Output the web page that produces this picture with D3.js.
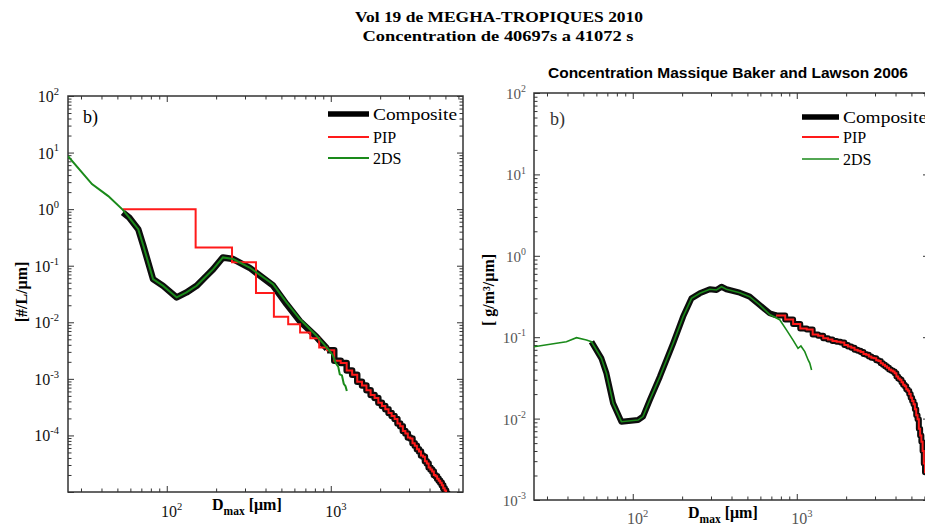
<!DOCTYPE html>
<html><head><meta charset="utf-8">
<script src="https://cdn.jsdelivr.net/npm/d3@7"></script>
<style>body{margin:0;background:#fff}svg{display:block}</style>
</head><body>
<svg id="c" width="925" height="526"></svg>
<script>
// ---------------- data ----------------
const titleLines = ["Vol 19 de MEGHA-TROPIQUES 2010", "Concentration de 40697s a  41072 s"];
const rightTitle = "Concentration Massique Baker and Lawson 2006";
const seriesNames = ["Composite", "PIP", "2DS"];
const panelTag = "b)";
const leftYLabel = "[#/L/\u03bcm]";
const rightYLabel = "[  g/m\u00b3/\u03bcm]";

// tick labels (powers of ten that carry a label)
const xTickLabels = [100, 1000];
const leftYTickLabels = [1e-4, 1e-3, 1e-2, 1e-1, 1, 10, 100];
const rightYTickLabels = [1e-3, 1e-2, 1e-1, 1, 10, 100];

// Left panel: number concentration [#/L/um] vs Dmax [um]
const twoDS_D = [25, 35, 44, 54, 59, 67, 72, 82.5, 95, 115, 132, 152, 175, 192, 220, 254, 320, 444, 537, 647, 818, 986, 1030, 1072, 1110, 1135, 1170, 1200, 1230, 1253];
const twoDS_N = [8.6, 2.77, 1.7, 0.97, 0.71, 0.443, 0.225, 0.058, 0.044, 0.0275, 0.0337, 0.0441, 0.0663, 0.087, 0.14, 0.131, 0.093, 0.047, 0.0225, 0.0114, 0.0058, 0.0031, 0.0026, 0.0019, 0.00165, 0.0012, 0.00115, 0.00082, 0.00074, 0.00061];

const comp_D = [54, 59, 67, 72, 82.5, 95, 115, 132, 152, 175, 192, 220, 254, 320, 444, 537, 647, 818, 950];
const comp_N = [0.87, 0.71, 0.443, 0.225, 0.058, 0.044, 0.0275, 0.0337, 0.0441, 0.0663, 0.087, 0.14, 0.131, 0.092, 0.045, 0.021, 0.0105, 0.0055, 0.0034];

const pip_D = [54, 150, 250, 350, 450, 550, 650, 750, 850, 950, 1050, 1150, 1250, 1350, 1450, 1550, 1650, 1750, 1850, 1950, 2050, 2150, 2250, 2350, 2450, 2550, 2650, 2750, 2850, 2950, 3050, 3150, 3250, 3350, 3450, 3550, 3650, 3750, 3850, 3950, 4050, 4150, 4250, 4350, 4450, 4550, 4650, 4750, 4850, 4950, 5050, 5150];
const pip_N = [1.0, 0.21, 0.115, 0.033, 0.0125, 0.0092, 0.0066, 0.0052, 0.0036, 0.0032, 0.0021, 0.0019, 0.0014, 0.00118, 0.00089, 0.00076, 0.00063, 0.00052, 0.00046, 0.00038, 0.00033, 0.00029, 0.00025, 0.00022, 0.000195, 0.000162, 0.000146, 0.00012, 0.000108, 0.000092, 0.000088, 0.000073, 0.000066, 0.000057, 0.000052, 0.000044, 0.000042, 0.000035, 0.000032, 0.000027, 0.000025, 0.000023, 0.00002, 0.000019, 0.0000172, 0.0000158, 0.0000145, 0.0000131, 0.0000117, 0.0000106, 0.0000094, 0.0000085];
const pip_end = 5250;
const compositeSwitchD = 950;

// Right panel: mass concentration [g/m3/um] vs Dmax [um]
const mass2DS_D = [25, 34.3, 39.4, 45.4, 52.2, 56, 64.4, 69.1, 75.9, 85.3, 107.7, 115.5, 127, 146.3, 176.3, 202.9, 228.2, 256.4, 295, 324, 347.4, 372.5, 449, 516, 594, 684, 787, 865, 949, 1018, 1060, 1119, 1150, 1173, 1200, 1231];
const mass2DS_M = [0.0764, 0.0841, 0.088, 0.0986, 0.0924, 0.088, 0.055, 0.036, 0.0154, 0.00916, 0.0096, 0.0106, 0.0169, 0.0327, 0.0841, 0.179, 0.30, 0.346, 0.388, 0.38, 0.417, 0.388, 0.352, 0.315, 0.249, 0.19, 0.164, 0.123, 0.092, 0.073, 0.078, 0.0664, 0.058, 0.0525, 0.048, 0.0395];

const massComp_D = [56, 64.4, 69.1, 75.9, 85.3, 107.7, 115.5, 127, 146.3, 176.3, 202.9, 228.2, 256.4, 295, 324, 347.4, 372.5, 449, 516, 594, 684, 750];
const massComp_M = [0.088, 0.055, 0.036, 0.0154, 0.00916, 0.0096, 0.0106, 0.0169, 0.0327, 0.0841, 0.179, 0.30, 0.346, 0.388, 0.38, 0.417, 0.388, 0.352, 0.315, 0.249, 0.197, 0.185];

const massPIP_D = [750, 850, 950, 1050, 1150, 1250, 1350, 1450, 1550, 1650, 1750, 1850, 1950, 2050, 2150, 2250, 2350, 2450, 2550, 2650, 2750, 2850, 2950, 3050, 3150, 3250, 3350, 3450, 3550, 3650, 3750, 3850, 3950, 4050, 4150, 4250, 4350, 4450, 4550, 4650, 4750, 4850, 4950, 5050, 5150, 5250, 5350, 5450, 5550, 5650, 5750, 5850, 5950, 6050];
const massPIP_M = [0.185, 0.165, 0.145, 0.128, 0.124, 0.108, 0.104, 0.097, 0.094, 0.09, 0.088, 0.086, 0.08, 0.077, 0.074, 0.07, 0.068, 0.066, 0.062, 0.061, 0.058, 0.056, 0.055, 0.052, 0.051, 0.048, 0.046, 0.044, 0.042, 0.04, 0.039, 0.038, 0.036, 0.033, 0.031, 0.03, 0.028, 0.026, 0.025, 0.023, 0.022, 0.02, 0.018, 0.0165, 0.015, 0.013, 0.011, 0.0098, 0.0075, 0.0062, 0.0052, 0.004, 0.0028, 0.0022];
const massPIP_end = 6150;

const xDomain = [25, 6400];
const leftYDomain = [1e-5, 1e2];
const rightYDomain = [1e-3, 1e2];

// ---------------- drawing ----------------
const SERIF = "'Liberation Serif','Times New Roman',serif";
const SANS = "'Liberation Sans',Arial,sans-serif";
const C_BLACK = "#000", C_RED = "#ff1a1a", C_GREEN = "#1a8a1a", FRAME = "#333";
const svg = d3.select("#c");

// titles
svg.append("text").attr("x", 499).attr("y", 22).attr("text-anchor", "middle")
  .attr("font-family", SERIF).attr("font-weight", "bold").attr("font-size", 15.5)
  .attr("textLength", 288).attr("lengthAdjust", "spacingAndGlyphs").text(titleLines[0]);
svg.append("text").attr("x", 498).attr("y", 41).attr("text-anchor", "middle")
  .attr("font-family", SERIF).attr("font-weight", "bold").attr("font-size", 15.5)
  .attr("textLength", 271).attr("lengthAdjust", "spacingAndGlyphs").text(titleLines[1]);
svg.append("text").attr("x", 548).attr("y", 78)
  .attr("font-family", SANS).attr("font-weight", "bold").attr("font-size", 14)
  .attr("textLength", 360).attr("lengthAdjust", "spacingAndGlyphs").text(rightTitle);

function logTicks(domain) {
  const [a, b] = domain, major = [], minor = [];
  for (let e = Math.floor(Math.log10(a)); e <= Math.ceil(Math.log10(b)); e++) {
    for (let k = 1; k < 10; k++) {
      const v = +(k * Math.pow(10, e)).toPrecision(6);
      if (v < a * 0.9999 || v > b * 1.0001) continue;
      (k === 1 ? major : minor).push(v);
    }
  }
  return { major, minor };
}

function supLabel(g, x, y, exp, anchor, size, color) {
  const t = g.append("text").attr("x", x).attr("y", y).attr("text-anchor", anchor)
    .attr("font-family", SERIF).attr("font-size", size).attr("fill", color);
  t.append("tspan").text("10");
  t.append("tspan").attr("dy", -size * 0.45).attr("font-size", size * 0.66).text(String(exp));
  return t;
}

function panel(cfg) {
  const { x, y, id, labelColor } = cfg;
  const [x0, x1] = x.range(), [yb, yt] = y.range();
  const g = svg.append("g");
  svg.append("clipPath").attr("id", id).append("rect")
    .attr("x", x0).attr("y", yt).attr("width", x1 - x0).attr("height", yb - yt);

  const xt = logTicks(x.domain()), ytk = logTicks(y.domain());
  const add = (axis, tr, vals, size) => {
    const a = g.append("g").attr("transform", tr)
      .call(axis.tickValues(vals).tickSize(-size).tickFormat(""));
    a.select(".domain").remove();
    a.selectAll("line").attr("stroke", FRAME).attr("stroke-width", 1);
  };
  add(d3.axisBottom(x), `translate(0,${yb})`, xt.major, 6);
  add(d3.axisBottom(x), `translate(0,${yb})`, xt.minor, 3.5);
  add(d3.axisTop(x), `translate(0,${yt})`, xt.major, 6);
  add(d3.axisTop(x), `translate(0,${yt})`, xt.minor, 3.5);
  add(d3.axisLeft(y), `translate(${x0},0)`, ytk.major, 6);
  add(d3.axisLeft(y), `translate(${x0},0)`, ytk.minor, 3.5);
  add(d3.axisRight(y), `translate(${x1},0)`, ytk.major, 6);
  add(d3.axisRight(y), `translate(${x1},0)`, ytk.minor, 3.5);

  g.append("rect").attr("x", x0).attr("y", yt).attr("width", x1 - x0).attr("height", yb - yt)
    .attr("fill", "none").attr("stroke", FRAME).attr("stroke-width", 1.5);

  // tick labels
  cfg.yLabels.forEach(v => supLabel(g, x0 - cfg.yLabelGap, y(v) + 6, Math.round(Math.log10(v)), "end", cfg.yLabelSize, labelColor));
  cfg.xLabels.forEach(v => supLabel(g, x(v) + 5, cfg.xLabelY, Math.round(Math.log10(v)), "middle", 16, labelColor));

  const data = svg.append("g").attr("clip-path", `url(#${id})`);
  return { g, data };
}

const lineFn = (x, y, curve) => d3.line().x(d => x(d[0])).y(d => y(d[1])).curve(curve || d3.curveLinear);

function xLabel(x, y) {
  const t = svg.append("text").attr("x", x).attr("y", y).attr("font-family", SERIF).attr("font-weight", "bold").attr("font-size", 16);
  t.append("tspan").text("D");
  t.append("tspan").attr("dy", 5).attr("font-size", 11.5).text("max");
  t.append("tspan").attr("dy", -5).attr("dx", 4).text("[\u03bcm]");
}

// ---------- Left panel ----------
const xL = d3.scaleLog().domain(xDomain).range([68, 463]);
const yL = d3.scaleLog().domain(leftYDomain).range([492, 96]);
const L = panel({ x: xL, y: yL, id: "clipL", labelColor: "#111", yLabelGap: 9, yLabelSize: 16, xLabelY: 517,
  yLabels: leftYTickLabels, xLabels: xTickLabels });

const pipPts = d3.zip(pip_D, pip_N).concat([[pip_end, pip_N[pip_N.length - 1]]]);
const compStepPts = pipPts.filter(d => d[0] >= compositeSwitchD);
const compSmooth = d3.zip(comp_D, comp_N);

[lineFn(xL, yL)(compSmooth), lineFn(xL, yL, d3.curveStepAfter)(compStepPts)].forEach(p =>
  L.data.append("path").attr("d", p).attr("fill", "none").attr("stroke", C_BLACK)
    .attr("stroke-width", 6.5).attr("stroke-linejoin", "round").attr("opacity", 0.95));
L.data.append("path").attr("d", lineFn(xL, yL, d3.curveStepAfter)(pipPts))
  .attr("fill", "none").attr("stroke", C_RED).attr("stroke-width", 2);
L.data.append("path").attr("d", lineFn(xL, yL)(d3.zip(twoDS_D, twoDS_N)))
  .attr("fill", "none").attr("stroke", C_GREEN).attr("stroke-width", 2);

// left labels
svg.append("text").attr("x", 83).attr("y", 123).attr("font-family", SERIF).attr("font-size", 18).text(panelTag);
svg.append("text").attr("transform", "translate(27,292) rotate(-90)").attr("text-anchor", "middle")
  .attr("font-family", SERIF).attr("font-weight", "bold").attr("font-size", 16).text(leftYLabel);
xLabel(212, 510);
// left legend
const legL = [{ y: 114, c: C_BLACK, w: 5.5 }, { y: 137, c: C_RED, w: 2 }, { y: 158, c: C_GREEN, w: 2 }];
legL.forEach((d, i) => {
  svg.append("line").attr("x1", 328).attr("x2", 369).attr("y1", d.y).attr("y2", d.y).attr("stroke", d.c).attr("stroke-width", d.w);
  const t = svg.append("text").attr("x", 373).attr("y", d.y + 6).attr("font-family", SERIF).attr("font-size", 16).text(seriesNames[i]);
  if (i === 0) t.attr("textLength", 84).attr("lengthAdjust", "spacingAndGlyphs");
});

// ---------- Right panel ----------
const xR = d3.scaleLog().domain(xDomain).range([534, 929]);
const yR = d3.scaleLog().domain(rightYDomain).range([500, 93]);
const R = panel({ x: xR, y: yR, id: "clipR", labelColor: "#555", yLabelGap: 8, yLabelSize: 15, xLabelY: 524,
  yLabels: rightYTickLabels, xLabels: xTickLabels });

const massPipPts = d3.zip(massPIP_D, massPIP_M).concat([[massPIP_end, massPIP_M[massPIP_M.length - 1]]]);
[lineFn(xR, yR)(d3.zip(massComp_D, massComp_M)), lineFn(xR, yR, d3.curveStepAfter)(massPipPts)].forEach(p =>
  R.data.append("path").attr("d", p).attr("fill", "none").attr("stroke", C_BLACK)
    .attr("stroke-width", 6).attr("stroke-linejoin", "round").attr("opacity", 0.95));
R.data.append("path").attr("d", lineFn(xR, yR, d3.curveStepAfter)(massPipPts))
  .attr("fill", "none").attr("stroke", C_RED).attr("stroke-width", 2);
R.data.append("path").attr("d", lineFn(xR, yR)(d3.zip(mass2DS_D, mass2DS_M)))
  .attr("fill", "none").attr("stroke", C_GREEN).attr("stroke-width", 1.6);

svg.append("text").attr("x", 550).attr("y", 125).attr("font-family", SERIF).attr("font-size", 18).attr("fill", "#333").text(panelTag);
svg.append("text").attr("transform", "translate(494,290) rotate(-90)").attr("text-anchor", "middle")
  .attr("font-family", SERIF).attr("font-weight", "bold").attr("font-size", 16).text(rightYLabel);
xLabel(688, 518);
const legR = [{ y: 117, c: C_BLACK, w: 5.5 }, { y: 137, c: C_RED, w: 2 }, { y: 159, c: C_GREEN, w: 1.6 }];
legR.forEach((d, i) => {
  svg.append("line").attr("x1", 802).attr("x2", 839).attr("y1", d.y).attr("y2", d.y).attr("stroke", d.c).attr("stroke-width", d.w);
  const t = svg.append("text").attr("x", 843).attr("y", d.y + 6).attr("font-family", SERIF).attr("font-size", 16).text(seriesNames[i]);
  if (i === 0) t.attr("textLength", 84).attr("lengthAdjust", "spacingAndGlyphs");
});
</script>
</body></html>
